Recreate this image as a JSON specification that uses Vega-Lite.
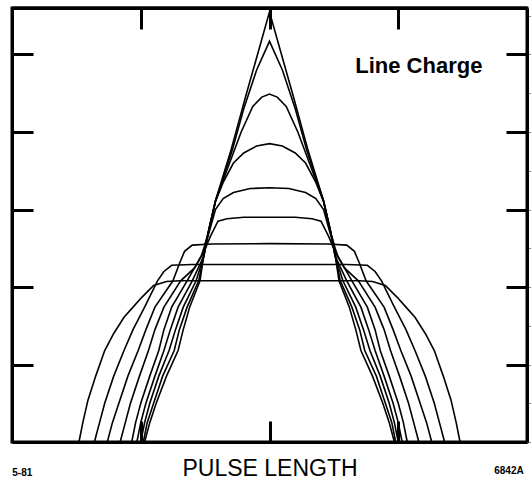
{
  "$schema": "https://vega.github.io/schema/vega-lite/v6.json",
  "width": 515,
  "height": 434,
  "autosize": {"type": "none"},
  "padding": {"left": 12, "top": 8, "right": 4, "bottom": 44},
  "background": "white",
  "config": {
    "view": {"stroke": "black", "strokeWidth": 3},
    "font": "Liberation Sans"
  },
  "datasets": {
    "curves": [
      {"c": "A", "x": 0.52, "y": 0}, {"c": "A", "x": 0.55, "y": 0.25}, {"c": "A", "x": 0.59, "y": 0.54}, {"c": "A", "x": 0.65, "y": 0.85}, {"c": "A", "x": 0.72, "y": 1.18}, {"c": "A", "x": 0.79, "y": 1.40}, {"c": "A", "x": 0.87, "y": 1.61}, {"c": "A", "x": 0.94, "y": 1.74}, {"c": "A", "x": 1.01, "y": 1.87}, {"c": "A", "x": 1.10, "y": 2.02}, {"c": "A", "x": 1.20, "y": 2.07}, {"c": "A", "x": 1.30, "y": 2.08}, {"c": "A", "x": 2.0, "y": 2.08},
      {"c": "A", "x": 2.70, "y": 2.08}, {"c": "A", "x": 2.80, "y": 2.07}, {"c": "A", "x": 2.90, "y": 2.02}, {"c": "A", "x": 2.99, "y": 1.87}, {"c": "A", "x": 3.06, "y": 1.74}, {"c": "A", "x": 3.13, "y": 1.61}, {"c": "A", "x": 3.21, "y": 1.40}, {"c": "A", "x": 3.28, "y": 1.18}, {"c": "A", "x": 3.35, "y": 0.85}, {"c": "A", "x": 3.41, "y": 0.54}, {"c": "A", "x": 3.45, "y": 0.25}, {"c": "A", "x": 3.48, "y": 0},

      {"c": "B", "x": 0.64, "y": 0}, {"c": "B", "x": 0.68, "y": 0.25}, {"c": "B", "x": 0.72, "y": 0.5}, {"c": "B", "x": 0.79, "y": 0.85}, {"c": "B", "x": 0.87, "y": 1.18}, {"c": "B", "x": 0.94, "y": 1.45}, {"c": "B", "x": 1.03, "y": 1.74}, {"c": "B", "x": 1.13, "y": 2.08}, {"c": "B", "x": 1.18, "y": 2.2}, {"c": "B", "x": 1.24, "y": 2.28}, {"c": "B", "x": 1.40, "y": 2.29}, {"c": "B", "x": 2.0, "y": 2.29},
      {"c": "B", "x": 2.60, "y": 2.29}, {"c": "B", "x": 2.76, "y": 2.28}, {"c": "B", "x": 2.82, "y": 2.2}, {"c": "B", "x": 2.87, "y": 2.08}, {"c": "B", "x": 2.97, "y": 1.74}, {"c": "B", "x": 3.06, "y": 1.45}, {"c": "B", "x": 3.13, "y": 1.18}, {"c": "B", "x": 3.21, "y": 0.85}, {"c": "B", "x": 3.28, "y": 0.5}, {"c": "B", "x": 3.32, "y": 0.25}, {"c": "B", "x": 3.36, "y": 0},

      {"c": "C", "x": 0.74, "y": 0}, {"c": "C", "x": 0.78, "y": 0.25}, {"c": "C", "x": 0.83, "y": 0.5}, {"c": "C", "x": 0.90, "y": 0.85}, {"c": "C", "x": 0.98, "y": 1.18}, {"c": "C", "x": 1.04, "y": 1.45}, {"c": "C", "x": 1.11, "y": 1.74}, {"c": "C", "x": 1.25, "y": 2.08}, {"c": "C", "x": 1.30, "y": 2.3}, {"c": "C", "x": 1.34, "y": 2.46}, {"c": "C", "x": 1.40, "y": 2.54}, {"c": "C", "x": 1.55, "y": 2.555}, {"c": "C", "x": 2.0, "y": 2.56},
      {"c": "C", "x": 2.45, "y": 2.555}, {"c": "C", "x": 2.60, "y": 2.54}, {"c": "C", "x": 2.66, "y": 2.46}, {"c": "C", "x": 2.70, "y": 2.3}, {"c": "C", "x": 2.75, "y": 2.08}, {"c": "C", "x": 2.89, "y": 1.74}, {"c": "C", "x": 2.96, "y": 1.45}, {"c": "C", "x": 3.02, "y": 1.18}, {"c": "C", "x": 3.10, "y": 0.85}, {"c": "C", "x": 3.17, "y": 0.5}, {"c": "C", "x": 3.22, "y": 0.25}, {"c": "C", "x": 3.26, "y": 0},

      {"c": "D", "x": 0.84, "y": 0}, {"c": "D", "x": 0.88, "y": 0.25}, {"c": "D", "x": 0.92, "y": 0.5}, {"c": "D", "x": 0.99, "y": 0.85}, {"c": "D", "x": 1.06, "y": 1.18}, {"c": "D", "x": 1.11, "y": 1.45}, {"c": "D", "x": 1.18, "y": 1.74}, {"c": "D", "x": 1.31, "y": 2.08}, {"c": "D", "x": 1.42, "y": 2.25}, {"c": "D", "x": 1.49, "y": 2.45}, {"c": "D", "x": 1.54, "y": 2.65}, {"c": "D", "x": 1.60, "y": 2.85}, {"c": "D", "x": 1.67, "y": 2.88}, {"c": "D", "x": 1.80, "y": 2.90}, {"c": "D", "x": 2.0, "y": 2.90},
      {"c": "D", "x": 2.20, "y": 2.90}, {"c": "D", "x": 2.33, "y": 2.88}, {"c": "D", "x": 2.40, "y": 2.85}, {"c": "D", "x": 2.46, "y": 2.65}, {"c": "D", "x": 2.51, "y": 2.45}, {"c": "D", "x": 2.58, "y": 2.25}, {"c": "D", "x": 2.69, "y": 2.08}, {"c": "D", "x": 2.82, "y": 1.74}, {"c": "D", "x": 2.89, "y": 1.45}, {"c": "D", "x": 2.94, "y": 1.18}, {"c": "D", "x": 3.01, "y": 0.85}, {"c": "D", "x": 3.08, "y": 0.5}, {"c": "D", "x": 3.12, "y": 0.25}, {"c": "D", "x": 3.16, "y": 0},

      {"c": "E", "x": 0.93, "y": 0}, {"c": "E", "x": 0.96, "y": 0.25}, {"c": "E", "x": 1.00, "y": 0.5}, {"c": "E", "x": 1.07, "y": 0.85}, {"c": "E", "x": 1.14, "y": 1.18}, {"c": "E", "x": 1.18, "y": 1.45}, {"c": "E", "x": 1.24, "y": 1.74}, {"c": "E", "x": 1.36, "y": 2.08}, {"c": "E", "x": 1.47, "y": 2.4}, {"c": "E", "x": 1.53, "y": 2.7}, {"c": "E", "x": 1.58, "y": 3.0}, {"c": "E", "x": 1.64, "y": 3.14}, {"c": "E", "x": 1.72, "y": 3.22}, {"c": "E", "x": 1.85, "y": 3.27}, {"c": "E", "x": 2.0, "y": 3.28},
      {"c": "E", "x": 2.15, "y": 3.27}, {"c": "E", "x": 2.28, "y": 3.22}, {"c": "E", "x": 2.36, "y": 3.14}, {"c": "E", "x": 2.42, "y": 3.0}, {"c": "E", "x": 2.47, "y": 2.7}, {"c": "E", "x": 2.53, "y": 2.4}, {"c": "E", "x": 2.64, "y": 2.08}, {"c": "E", "x": 2.76, "y": 1.74}, {"c": "E", "x": 2.82, "y": 1.45}, {"c": "E", "x": 2.86, "y": 1.18}, {"c": "E", "x": 2.93, "y": 0.85}, {"c": "E", "x": 3.00, "y": 0.5}, {"c": "E", "x": 3.04, "y": 0.25}, {"c": "E", "x": 3.07, "y": 0},

      {"c": "F", "x": 0.97, "y": 0}, {"c": "F", "x": 1.00, "y": 0.25}, {"c": "F", "x": 1.04, "y": 0.5}, {"c": "F", "x": 1.11, "y": 0.85}, {"c": "F", "x": 1.18, "y": 1.18}, {"c": "F", "x": 1.23, "y": 1.45}, {"c": "F", "x": 1.29, "y": 1.74}, {"c": "F", "x": 1.40, "y": 2.08}, {"c": "F", "x": 1.49, "y": 2.4}, {"c": "F", "x": 1.53, "y": 2.75}, {"c": "F", "x": 1.58, "y": 3.1}, {"c": "F", "x": 1.64, "y": 3.35}, {"c": "F", "x": 1.72, "y": 3.6}, {"c": "F", "x": 1.80, "y": 3.73}, {"c": "F", "x": 1.90, "y": 3.82}, {"c": "F", "x": 2.0, "y": 3.85},
      {"c": "F", "x": 2.10, "y": 3.82}, {"c": "F", "x": 2.20, "y": 3.73}, {"c": "F", "x": 2.28, "y": 3.6}, {"c": "F", "x": 2.36, "y": 3.35}, {"c": "F", "x": 2.42, "y": 3.1}, {"c": "F", "x": 2.47, "y": 2.75}, {"c": "F", "x": 2.51, "y": 2.4}, {"c": "F", "x": 2.60, "y": 2.08}, {"c": "F", "x": 2.71, "y": 1.74}, {"c": "F", "x": 2.77, "y": 1.45}, {"c": "F", "x": 2.82, "y": 1.18}, {"c": "F", "x": 2.89, "y": 0.85}, {"c": "F", "x": 2.96, "y": 0.5}, {"c": "F", "x": 3.00, "y": 0.25}, {"c": "F", "x": 3.03, "y": 0},

      {"c": "G", "x": 1.00, "y": 0}, {"c": "G", "x": 1.03, "y": 0.25}, {"c": "G", "x": 1.07, "y": 0.5}, {"c": "G", "x": 1.14, "y": 0.85}, {"c": "G", "x": 1.22, "y": 1.18}, {"c": "G", "x": 1.27, "y": 1.45}, {"c": "G", "x": 1.33, "y": 1.74}, {"c": "G", "x": 1.43, "y": 2.08}, {"c": "G", "x": 1.49, "y": 2.4}, {"c": "G", "x": 1.53, "y": 2.75}, {"c": "G", "x": 1.58, "y": 3.11}, {"c": "G", "x": 1.69, "y": 3.6}, {"c": "G", "x": 1.78, "y": 4.0}, {"c": "G", "x": 1.87, "y": 4.33}, {"c": "G", "x": 1.94, "y": 4.45}, {"c": "G", "x": 2.0, "y": 4.49},
      {"c": "G", "x": 2.06, "y": 4.45}, {"c": "G", "x": 2.13, "y": 4.33}, {"c": "G", "x": 2.22, "y": 4.0}, {"c": "G", "x": 2.31, "y": 3.6}, {"c": "G", "x": 2.42, "y": 3.11}, {"c": "G", "x": 2.47, "y": 2.75}, {"c": "G", "x": 2.51, "y": 2.4}, {"c": "G", "x": 2.57, "y": 2.08}, {"c": "G", "x": 2.67, "y": 1.74}, {"c": "G", "x": 2.73, "y": 1.45}, {"c": "G", "x": 2.78, "y": 1.18}, {"c": "G", "x": 2.86, "y": 0.85}, {"c": "G", "x": 2.93, "y": 0.5}, {"c": "G", "x": 2.97, "y": 0.25}, {"c": "G", "x": 3.00, "y": 0},

      {"c": "H", "x": 1.02, "y": 0}, {"c": "H", "x": 1.05, "y": 0.25}, {"c": "H", "x": 1.10, "y": 0.5}, {"c": "H", "x": 1.17, "y": 0.85}, {"c": "H", "x": 1.26, "y": 1.18}, {"c": "H", "x": 1.30, "y": 1.45}, {"c": "H", "x": 1.36, "y": 1.74}, {"c": "H", "x": 1.45, "y": 2.08}, {"c": "H", "x": 1.49, "y": 2.4}, {"c": "H", "x": 1.53, "y": 2.75}, {"c": "H", "x": 1.58, "y": 3.11}, {"c": "H", "x": 1.71, "y": 3.76}, {"c": "H", "x": 1.80, "y": 4.3}, {"c": "H", "x": 1.90, "y": 4.8}, {"c": "H", "x": 2.0, "y": 5.17},
      {"c": "H", "x": 2.10, "y": 4.8}, {"c": "H", "x": 2.20, "y": 4.3}, {"c": "H", "x": 2.29, "y": 3.76}, {"c": "H", "x": 2.42, "y": 3.11}, {"c": "H", "x": 2.47, "y": 2.75}, {"c": "H", "x": 2.51, "y": 2.4}, {"c": "H", "x": 2.55, "y": 2.08}, {"c": "H", "x": 2.64, "y": 1.74}, {"c": "H", "x": 2.70, "y": 1.45}, {"c": "H", "x": 2.74, "y": 1.18}, {"c": "H", "x": 2.83, "y": 0.85}, {"c": "H", "x": 2.90, "y": 0.5}, {"c": "H", "x": 2.95, "y": 0.25}, {"c": "H", "x": 2.98, "y": 0},

      {"c": "I", "x": 1.03, "y": 0}, {"c": "I", "x": 1.07, "y": 0.25}, {"c": "I", "x": 1.12, "y": 0.5}, {"c": "I", "x": 1.20, "y": 0.85}, {"c": "I", "x": 1.29, "y": 1.18}, {"c": "I", "x": 1.33, "y": 1.45}, {"c": "I", "x": 1.38, "y": 1.74}, {"c": "I", "x": 1.46, "y": 2.08}, {"c": "I", "x": 1.48, "y": 2.3}, {"c": "I", "x": 1.50, "y": 2.56}, {"c": "I", "x": 1.54, "y": 2.8}, {"c": "I", "x": 1.58, "y": 3.11}, {"c": "I", "x": 1.70, "y": 3.76}, {"c": "I", "x": 1.82, "y": 4.49}, {"c": "I", "x": 1.936, "y": 5.17}, {"c": "I", "x": 2.0, "y": 5.55},
      {"c": "I", "x": 2.064, "y": 5.17}, {"c": "I", "x": 2.18, "y": 4.49}, {"c": "I", "x": 2.30, "y": 3.76}, {"c": "I", "x": 2.42, "y": 3.11}, {"c": "I", "x": 2.46, "y": 2.8}, {"c": "I", "x": 2.50, "y": 2.56}, {"c": "I", "x": 2.52, "y": 2.3}, {"c": "I", "x": 2.54, "y": 2.08}, {"c": "I", "x": 2.62, "y": 1.74}, {"c": "I", "x": 2.67, "y": 1.45}, {"c": "I", "x": 2.71, "y": 1.18}, {"c": "I", "x": 2.80, "y": 0.85}, {"c": "I", "x": 2.88, "y": 0.5}, {"c": "I", "x": 2.93, "y": 0.25}, {"c": "I", "x": 2.97, "y": 0}
    ],
    "labels": [
      {"label": "Line Charge", "x": 3.16, "y": 4.85}
    ],
    "notes": [
      {"label": "5-81", "x": 0.08, "y": -0.40},
      {"label": "6842A", "x": 3.86, "y": -0.37}
    ],
    "frame": [
      {"y": 5.6}
    ]
  },
  "resolve": {"axis": {"x": "independent", "y": "independent"}},
  "layer": [
    {
      "data": {"name": "curves"},
      "mark": {"type": "line", "color": "black", "strokeWidth": 1.6},
      "encoding": {
        "x": {
          "field": "x", "type": "quantitative",
          "scale": {"domain": [0, 4], "nice": false, "zero": false},
          "axis": {"orient": "top", "values": [1, 2, 3], "labels": false, "grid": false,
                   "domain": true, "domainColor": "black", "domainWidth": 3,
                   "tickSize": -21, "tickWidth": 3, "tickColor": "black", "title": null}
        },
        "y": {
          "field": "y", "type": "quantitative",
          "scale": {"domain": [0, 5.6], "nice": false, "zero": false},
          "axis": {"orient": "left", "values": [1, 2, 3, 4, 5], "labels": false, "grid": false,
                   "domain": true, "domainColor": "black", "domainWidth": 3,
                   "tickSize": -21, "tickWidth": 3, "tickColor": "black", "title": null}
        },
        "detail": {"field": "c", "type": "nominal"}
      }
    },
    {
      "data": {"name": "frame"},
      "mark": {"type": "rule", "color": "black", "strokeWidth": 3, "clip": false},
      "encoding": {
        "y": {"field": "y", "type": "quantitative"}
      }
    },
    {
      "data": {"name": "labels"},
      "mark": {"type": "text", "color": "black", "font": "Liberation Sans", "fontSize": 22, "fontWeight": "bold", "align": "center", "baseline": "middle"},
      "encoding": {
        "x": {"field": "x", "type": "quantitative",
              "axis": {"orient": "bottom", "values": [1, 2, 3], "labels": false, "grid": false,
                       "domain": true, "domainColor": "black", "domainWidth": 3,
                       "tickSize": -21, "tickWidth": 3, "tickColor": "black",
                       "title": "PULSE LENGTH", "titleFontSize": 23, "titleFontWeight": "normal", "titleColor": "black",
                       "titleFont": "Liberation Sans", "titlePadding": 14}},
        "y": {"field": "y", "type": "quantitative",
              "axis": {"orient": "right", "values": [1, 2, 3, 4, 5], "labels": false, "grid": false,
                       "domain": true, "domainColor": "black", "domainWidth": 3,
                       "tickSize": -21, "tickWidth": 3, "tickColor": "black", "title": null}},
        "text": {"field": "label", "type": "nominal"}
      }
    },
    {
      "data": {"name": "notes"},
      "mark": {"type": "text", "color": "black", "font": "Liberation Sans", "fontWeight": "bold", "align": "center", "baseline": "middle", "clip": false},
      "encoding": {
        "x": {"field": "x", "type": "quantitative", "axis": null},
        "y": {"field": "y", "type": "quantitative", "axis": null},
        "text": {"field": "label", "type": "nominal"},
        "size": {"value": 10}
      }
    }
  ]
}
